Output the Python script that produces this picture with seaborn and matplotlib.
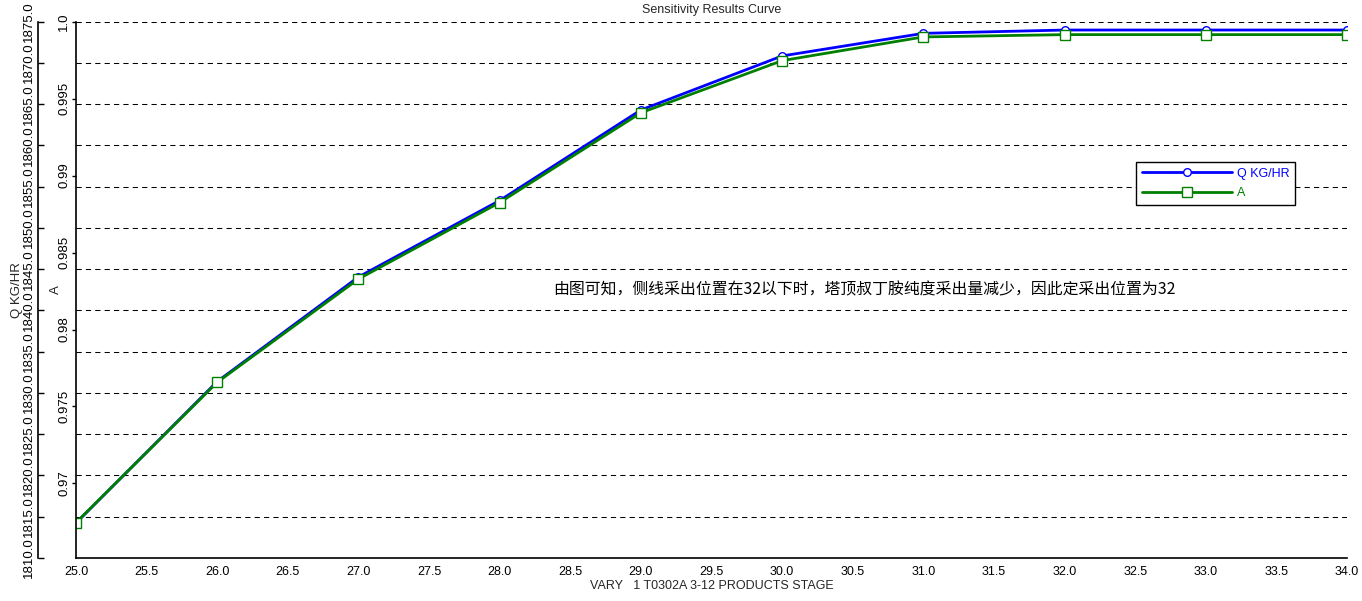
import matplotlib
matplotlib.use("Agg")
import matplotlib.pyplot as plt
import seaborn as sns

# Data
stage = [25, 26, 27, 28, 29, 30, 31, 32, 33, 34]
q_kg_hr = [1814.24, 1831.39, 1844.06, 1853.33, 1864.3, 1870.85, 1873.59, 1873.99, 1873.99, 1873.99]
a_frac = [0.96745, 0.97657, 0.98328, 0.98825, 0.99408, 0.99747, 0.99901, 0.99916, 0.99916, 0.99916]

x_ticks = [25 + 0.5 * i for i in range(19)]
q_ticks = [1810, 1815, 1820, 1825, 1830, 1835, 1840, 1845, 1850, 1855, 1860, 1865, 1870, 1875]
a_ticks = [0.97, 0.975, 0.98, 0.985, 0.99, 0.995, 1.0]
a_tick_labels = ["0.97", "0.975", "0.98", "0.985", "0.99", "0.995", "1.0"]

note = "由图可知，侧线采出位置在32以下时，塔顶叔丁胺纯度采出量减少，因此定采出位置为32"

sns.set_style("white")
plt.rcParams['font.family'] = ['Liberation Sans', 'Noto Sans CJK SC', 'DejaVu Sans']
plt.rcParams['font.size'] = 9

W, H = 1362, 601
fig = plt.figure(figsize=(W / 100, H / 100), dpi=100)
left, right, top, bottom = 76, 1347, 21.7, 558
ax = fig.add_axes([left / W, 1 - bottom / H, (right - left) / W, (bottom - top) / H])
ax2 = ax.twinx()

# Q on the outer (twin) axis, A on the inner axis drawn on top
ax.set_zorder(ax2.get_zorder() + 1)
ax.patch.set_visible(False)

sns.lineplot(x=stage, y=q_kg_hr, ax=ax2, color='#0000ff', linewidth=2,
             marker='o', markersize=5.5, markerfacecolor='white',
             markeredgecolor='#0000ff', markeredgewidth=1, label='Q KG/HR', legend=False)
sns.lineplot(x=stage, y=a_frac, ax=ax, color='#008000', linewidth=2,
             marker='s', markersize=6.5, markerfacecolor='white',
             markeredgecolor='#008000', markeredgewidth=1, label='A', legend=False)

ax.set_xlim(25, 34)
ax.set_xticks(x_ticks)
ax.set_xticklabels([f"{v:.1f}" for v in x_ticks])
ax.set_ylim(0.965153, 1.0)
ax.set_yticks(a_ticks)
ax.set_yticklabels(a_tick_labels)
ax2.set_ylim(1810, 1875)
ax2.set_yticks(q_ticks)
ax2.set_yticklabels([f"{v:.1f}" for v in q_ticks])

# spines
for s in ['top', 'right']:
    ax.spines[s].set_visible(False)
for s in ['top', 'right', 'bottom']:
    ax2.spines[s].set_visible(False)
for s in ['left', 'bottom']:
    ax.spines[s].set_color('black')
    ax.spines[s].set_linewidth(1.2)
ax2.spines['left'].set_visible(True)
ax2.spines['left'].set_color('black')
ax2.spines['left'].set_linewidth(1.2)
ax2.spines['left'].set_position(('outward', 38 * 0.72))
ax2.yaxis.tick_left()
ax2.yaxis.set_label_position('left')

ax.tick_params(axis='x', direction='out', length=4, width=1, pad=2, colors='black', labelsize=9)
ax.tick_params(axis='y', direction='out', length=3, width=1, pad=1, colors='black', labelsize=9.5, labelrotation=90)
ax2.tick_params(axis='y', direction='in', length=4, width=1, pad=2, colors='black', labelsize=9.5, labelrotation=90)
for lbl in ax.get_yticklabels() + ax2.get_yticklabels():
    lbl.set_va('center')

# grid on Q ticks
ax2.yaxis.grid(True, color='black', linestyle=(0, (5, 4)), linewidth=0.75)
ax2.xaxis.grid(False)
ax.grid(False)

ax.set_title('Sensitivity Results Curve', fontsize=9, pad=6)
ax.set_xlabel('VARY   1 T0302A 3-12 PRODUCTS STAGE', fontsize=9, labelpad=1)
ax.set_ylabel('A', fontsize=9.5)
ax2.set_ylabel('Q KG/HR', fontsize=9.5)
ax.yaxis.set_label_coords((62 - left) / (right - left), 0.5)
ax2.yaxis.set_label_coords((23 - left) / (right - left), 0.5)

ax.text((553 - left) / (right - left), (bottom - 290) / (bottom - top), note,
        transform=ax.transAxes, ha='left', va='center', fontsize=11.4,
        family=['Noto Sans CJK SC', 'DejaVu Sans'], color='black')

handles = ax2.get_lines()[:1] + ax.get_lines()[:1]
leg = ax.legend(handles, ['Q KG/HR', 'A'], loc='upper left',
                bbox_to_anchor=(1136 / W, 1 - 162 / H), bbox_transform=fig.transFigure,
                borderaxespad=0, fontsize=9, handlelength=7.2, handletextpad=0.4,
                labelspacing=0.6, borderpad=0.45, numpoints=1, fancybox=False,
                framealpha=1, edgecolor='black')
leg.get_frame().set_linewidth(1)
leg.get_texts()[0].set_color('#0000ff')
leg.get_texts()[1].set_color('#008000')

fig.savefig('out.png', dpi=100)
